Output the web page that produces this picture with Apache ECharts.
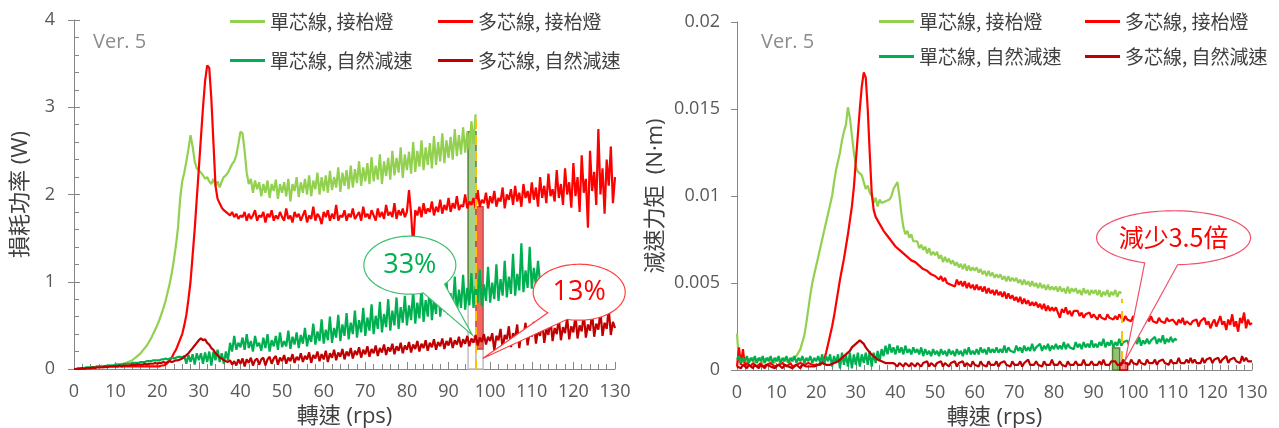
<!DOCTYPE html>
<html><head><meta charset="utf-8">
<script src="https://cdn.jsdelivr.net/npm/echarts/dist/echarts.min.js"></script>
<style>html,body{margin:0;padding:0;background:#fff}#c{width:1279px;height:428px}</style>
</head><body><div id="c"></div>
<script>
// ---------------- data (readings every 0.5 rps, starting at 0 rps) ----------------
const seriesNames = ['單芯線, 接枱燈', '多芯線, 接枱燈', '單芯線, 自然減速', '多芯線, 自然減速'];
const seriesColors = ['#92D050', '#FF0000', '#00B050', '#C00000'];
const sampleStep = 0.5;
const speedAxis = { min: 0, max: 130, interval: 10 };
const lossAxis = { min: 0, max: 4, interval: 1 };
const torqueAxis = { min: 0, max: 0.02, interval: 0.005 };

// Loss power (W)
const lossSingleLamp = [
0,0,0,0.01,0.01,0.01,0.01,0.01,0.02,0.02,0.02,0.02,0.02,0.03,0.03,0.03,0.03,0.04,0.04,0.04,0.05,
0.05,0.05,0.06,0.06,0.07,0.08,0.09,0.10,0.12,0.14,
0.16,0.18,0.21,0.24,0.27,0.31,0.35,0.40,0.45,0.50,
0.56,0.63,0.70,0.78,0.88,0.98,1.10,1.25,1.42,1.62,
1.95,2.15,2.25,2.38,2.52,2.68,2.55,2.38,2.30,2.28,
2.25,2.22,2.18,2.20,2.15,2.12,2.18,2.10,2.15,2.08,
2.15,2.20,2.22,2.25,2.30,2.35,2.38,2.45,2.58,2.72,
2.70,2.50,2.25,2.12,2.18,2.02,2.16,2.06,2.14,1.98,
2.12,2.02,2.16,1.96,2.12,2.04,2.17,1.95,2.12,2.02,
2.14,1.98,2.18,1.92,2.12,2.04,2.20,1.97,2.14,2.02,
2.18,2.00,2.22,1.98,2.16,2.06,2.25,2.00,2.20,2.04,
2.22,2.02,2.27,2.05,2.20,2.08,2.31,2.03,2.25,2.10,
2.28,2.06,2.33,2.08,2.29,2.13,2.38,2.10,2.31,2.15,
2.36,2.12,2.43,2.15,2.33,2.17,2.46,2.12,2.38,2.21,
2.42,2.17,2.50,2.22,2.42,2.25,2.54,2.19,2.46,2.28,
2.49,2.24,2.60,2.26,2.50,2.32,2.62,2.28,2.54,2.34,
2.59,2.30,2.67,2.34,2.60,2.38,2.70,2.36,2.62,2.42,
2.66,2.40,2.75,2.44,2.68,2.46,2.77,2.48,2.72,2.52,
2.84,2.58,2.92
];
const lossMultiLamp = [
0,0,0,0,0.01,0.01,0.01,0.01,0.01,0.01,0.02,0.02,0.02,0.02,0.02,0.02,0.03,0.03,0.03,0.03,0.03,
0.03,0.03,0.03,0.03,0.03,0.03,0.03,0.03,0.03,0.03,
0.03,0.03,0.03,0.03,0.03,0.03,0.03,0.03,0.03,0.03,
0.03,0.04,0.04,0.05,0.07,0.10,0.13,0.18,0.22,0.28,
0.34,0.40,0.50,0.62,0.80,1.00,1.30,1.60,1.95,2.30,
2.65,3.00,3.30,3.48,3.45,3.10,2.60,2.10,1.95,1.90,
1.85,1.82,1.80,1.78,1.76,1.80,1.74,1.78,1.72,1.76,
1.74,1.80,1.70,1.78,1.72,1.76,1.82,1.70,1.76,1.74,
1.80,1.68,1.78,1.74,1.82,1.70,1.76,1.72,1.80,1.74,
1.70,1.84,1.72,1.76,1.68,1.80,1.74,1.78,1.70,1.76,
1.82,1.68,1.76,1.72,1.86,1.70,1.78,1.74,1.66,1.80,
1.74,1.82,1.70,1.78,1.72,1.88,1.70,1.76,1.74,1.82,
1.70,1.78,1.74,1.84,1.72,1.76,1.80,1.70,1.86,1.74,
1.78,1.72,1.82,1.76,1.70,1.84,1.74,1.80,1.72,1.88,
1.76,1.80,1.74,1.90,1.72,1.82,1.76,1.84,1.74,1.80,
2.05,1.78,1.40,1.82,1.76,1.86,1.74,1.90,1.78,1.84,
1.80,1.92,1.76,1.86,1.80,1.94,1.78,1.88,1.82,1.96,
1.80,1.90,1.84,1.98,1.82,1.88,1.86,2.00,1.84,1.92,
1.88,1.96,1.84,2.05,1.86,1.94,1.90,2.02,1.84,1.98,
1.90,2.04,1.86,1.96,1.92,2.08,1.84,2.00,1.94,2.06,
1.88,2.10,1.92,2.02,1.86,2.12,1.96,2.04,1.90,2.14,
1.94,2.08,1.86,2.20,1.96,2.10,1.90,2.24,1.98,2.06,
1.92,2.28,1.96,2.12,1.88,2.30,2.00,2.14,1.85,2.36,
1.98,2.20,1.80,2.45,2.02,2.18,1.62,2.50,2.04,2.26,
1.88,2.75,2.00,2.30,1.78,2.40,2.10,2.55,1.90,2.20
];
const lossSingleCoast = [
0,0,0.01,0.01,0.01,0.01,0.02,0.02,0.02,0.02,0.02,0.03,0.03,0.03,0.03,0.03,0.04,0.04,0.04,0.04,0.05,
0.05,0.05,0.05,0.06,0.06,0.06,0.06,0.07,0.07,0.07,
0.07,0.08,0.08,0.08,0.09,0.09,0.09,0.10,0.10,0.10,
0.10,0.11,0.11,0.12,0.11,0.12,0.13,0.12,0.13,0.14,
0.14,0.13,0.15,0.06,0.16,0.08,0.17,0.05,0.18,0.10,
0.18,0.06,0.19,0.08,0.20,0.04,0.20,0.10,0.22,0.08,
0.18,0.06,0.20,0.10,0.30,0.20,0.38,0.22,0.30,0.25,
0.36,0.22,0.40,0.24,0.32,0.20,0.38,0.26,0.30,0.21,
0.36,0.24,0.40,0.20,0.33,0.26,0.38,0.22,0.42,0.25,
0.32,0.26,0.44,0.23,0.37,0.28,0.42,0.24,0.39,0.29,
0.47,0.26,0.39,0.31,0.52,0.28,0.43,0.32,0.57,0.29,
0.45,0.33,0.60,0.30,0.47,0.36,0.62,0.32,0.51,0.38,
0.64,0.34,0.53,0.40,0.67,0.36,0.56,0.42,0.70,0.38,
0.59,0.44,0.74,0.40,0.61,0.46,0.77,0.42,0.63,0.48,
0.80,0.44,0.67,0.50,0.82,0.46,0.71,0.53,0.84,0.50,
0.73,0.56,0.90,0.52,0.76,0.58,0.94,0.54,0.79,0.60,
0.97,0.56,0.81,0.63,1.00,0.60,0.85,0.66,1.02,0.62,
0.87,0.68,1.06,0.64,0.91,0.70,1.08,0.68,0.93,0.73,
1.10,0.70,0.95,0.76,1.14,0.72,0.97,0.78,1.17,0.76,
0.99,0.80,1.20,0.78,1.03,0.84,1.24,0.82,1.06,0.86,
1.32,0.84,1.09,0.90,1.44,0.88,1.13,0.93,1.40,0.92,
1.16,0.96,1.24,0.98
];
const lossMultiCoast = [
0,0,0,0,0.01,0,0.01,0.01,0.01,0.02,0.01,0.02,0.02,0.02,0.02,0.03,0.02,0.03,0.03,0.03,0.03,
0.03,0.04,0.03,0.04,0.04,0.04,0.04,0.05,0.04,0.05,
0.05,0.05,0.05,0.06,0.05,0.06,0.06,0.06,0.07,0.06,
0.07,0.07,0.08,0.07,0.08,0.09,0.08,0.09,0.10,0.10,
0.11,0.12,0.14,0.16,0.18,0.21,0.24,0.27,0.30,0.33,
0.35,0.33,0.34,0.30,0.28,0.24,0.22,0.18,0.16,0.13,
0.12,0.10,0.09,0.08,0.10,0.05,0.09,0.04,0.11,0.06,
0.12,0.03,0.11,0.07,0.13,0.04,0.10,0.12,0.05,0.11,
0.13,0.04,0.11,0.14,0.06,0.12,0.15,0.05,0.13,0.09,
0.16,0.06,0.13,0.09,0.17,0.07,0.14,0.10,0.18,0.08,
0.15,0.11,0.19,0.07,0.16,0.12,0.20,0.09,0.17,0.11,
0.21,0.08,0.18,0.13,0.22,0.10,0.19,0.14,0.23,0.11,
0.20,0.15,0.24,0.12,0.21,0.16,0.25,0.13,0.22,0.17,
0.26,0.14,0.23,0.18,0.27,0.15,0.24,0.19,0.28,0.16,
0.25,0.20,0.29,0.17,0.26,0.21,0.30,0.18,0.27,0.22,
0.31,0.19,0.28,0.23,0.32,0.20,0.29,0.24,0.33,0.21,
0.30,0.25,0.34,0.22,0.31,0.26,0.35,0.23,0.32,0.27,
0.36,0.24,0.33,0.28,0.37,0.25,0.34,0.29,0.38,0.26,
0.35,0.30,0.39,0.27,0.36,0.31,0.40,0.28,0.37,0.32,
0.41,0.21,0.38,0.33,0.46,0.23,0.39,0.34,0.49,0.25,
0.41,0.35,0.51,0.24,0.42,0.36,0.53,0.27,0.43,0.37,
0.54,0.29,0.45,0.38,0.55,0.30,0.46,0.39,0.57,0.32,
0.47,0.40,0.58,0.33,0.48,0.41,0.59,0.34,0.49,0.42,
0.61,0.35,0.50,0.43,0.63,0.36,0.51,0.44,0.64,0.37,
0.52,0.45,0.66,0.38,0.53,0.46,0.69,0.39,0.54,0.47
];

// Braking torque (N·m)
const torqueSingleLamp = [
0.0021,0.0004,0.0006,0.0005,0.0007,0.0004,0.0006,0.0005,0.0007,0.0004,0.0006,0.0005,0.0007,0.0004,0.0006,0.0005,0.0007,0.0005,0.0006,0.0004,0.0007,
0.0005,0.0006,0.0004,0.0007,0.0005,0.0006,0.0005,0.0007,0.0006,0.0008,
0.0008,0.0012,0.0016,0.0020,0.0027,0.0035,0.0043,0.0050,0.0055,0.0060,
0.0065,0.0070,0.0075,0.0080,0.0085,0.0090,0.0095,0.0100,0.0108,0.0115,
0.0120,0.0125,0.0132,0.0137,0.0141,0.0151,0.0145,0.0135,0.0125,0.0117,
0.0114,0.0115,0.0112,0.0108,0.0104,0.0106,0.0102,0.0100,0.0096,0.0099,
0.0094,0.0098,0.0096,0.0097,0.0097,0.0098,0.0098,0.0100,0.0104,0.0106,
0.0108,0.0100,0.0090,0.0082,0.0078,0.0080,0.0076,0.0078,0.0074,0.0073,
0.0074,0.0070,0.0072,0.0069,0.0071,0.0067,0.0070,0.0066,0.0068,0.0066,
0.0068,0.0064,0.0066,0.0062,0.0065,0.0062,0.0064,0.0061,0.0063,0.0060,
0.0062,0.0059,0.0061,0.0058,0.0061,0.0057,0.0060,0.0057,0.0059,0.0057,
0.0059,0.0056,0.0058,0.0055,0.0057,0.0054,0.0057,0.0054,0.0056,0.0053,
0.0055,0.0053,0.0055,0.0052,0.0054,0.0051,0.0054,0.0051,0.0053,0.0051,
0.0053,0.0050,0.0052,0.0049,0.0052,0.0049,0.0051,0.0048,0.0051,0.0048,
0.0050,0.0047,0.0050,0.0047,0.0049,0.0046,0.0049,0.0046,0.0048,0.0046,
0.0048,0.0045,0.0048,0.0045,0.0047,0.0044,0.0048,0.0044,0.0047,0.0045,
0.0047,0.0044,0.0046,0.0043,0.0047,0.0044,0.0046,0.0043,0.0046,0.0044,
0.0046,0.0043,0.0046,0.0042,0.0045,0.0043,0.0046,0.0042,0.0045,0.0043,
0.0046,0.0042,0.0045,0.0044
];
const torqueMultiLamp = [
0.0002,0.0013,0.0003,0.0012,0.0002,0.0004,0.0003,0.0002,0.0004,0.0003,0.0002,0.0003,0.0004,0.0002,0.0003,0.0003,0.0002,0.0004,0.0003,0.0002,0.0003,
0.0003,0.0002,0.0004,0.0003,0.0002,0.0003,0.0004,0.0002,0.0003,0.0003,
0.0002,0.0004,0.0003,0.0003,0.0002,0.0004,0.0003,0.0003,0.0004,0.0003,
0.0003,0.0003,0.0004,0.0006,0.0010,0.0015,0.0020,0.0025,0.0031,0.0038,
0.0045,0.0052,0.0058,0.0064,0.0071,0.0078,0.0086,0.0094,0.0105,0.0120,
0.0135,0.0150,0.0163,0.0171,0.0168,0.0150,0.0125,0.0102,0.0092,0.0088,
0.0087,0.0084,0.0083,0.0080,0.0080,0.0077,0.0077,0.0074,0.0073,0.0071,
0.0071,0.0069,0.0069,0.0067,0.0067,0.0065,0.0065,0.0063,0.0063,0.0062,
0.0062,0.0060,0.0060,0.0058,0.0058,0.0057,0.0057,0.0055,0.0056,0.0054,
0.0055,0.0052,0.0054,0.0051,0.0053,0.0050,0.0051,0.0049,0.0050,0.0048,
0.0052,0.0049,0.0051,0.0048,0.0051,0.0047,0.0050,0.0047,0.0049,0.0046,
0.0049,0.0046,0.0048,0.0045,0.0048,0.0044,0.0047,0.0044,0.0046,0.0043,
0.0046,0.0043,0.0045,0.0042,0.0045,0.0041,0.0044,0.0041,0.0043,0.0040,
0.0042,0.0039,0.0042,0.0038,0.0041,0.0038,0.0040,0.0037,0.0039,0.0037,
0.0039,0.0036,0.0038,0.0035,0.0038,0.0034,0.0037,0.0034,0.0036,0.0034,
0.0036,0.0033,0.0030,0.0035,0.0033,0.0036,0.0032,0.0034,0.0031,0.0034,
0.0033,0.0034,0.0031,0.0033,0.0030,0.0032,0.0031,0.0033,0.0030,0.0032,
0.0031,0.0029,0.0032,0.0030,0.0031,0.0029,0.0032,0.0030,0.0031,0.0029,
0.0031,0.0029,0.0032,0.0030,0.0028,0.0031,0.0029,0.0030,0.0028,0.0031,
0.0029,0.0031,0.0028,0.0030,0.0029,0.0027,0.0030,0.0028,0.0031,0.0028,
0.0029,0.0027,0.0030,0.0028,0.0029,0.0027,0.0030,0.0028,0.0027,0.0029,
0.0028,0.0026,0.0029,0.0027,0.0030,0.0026,0.0028,0.0029,0.0026,0.0028,
0.0027,0.0029,0.0025,0.0028,0.0027,0.0030,0.0026,0.0028,0.0024,0.0027,
0.0029,0.0025,0.0028,0.0031,0.0026,0.0028,0.0023,0.0029,0.0026,0.0032,
0.0025,0.0028,0.0022,0.0030,0.0027,0.0033,0.0024,0.0029,0.0026,0.0027
];
const torqueSingleCoast = [
0.0006,0.0008,0.0004,0.0007,0.0005,0.0008,0.0004,0.0007,0.0005,0.0008,0.0004,0.0007,0.0005,0.0008,0.0004,0.0007,0.0005,0.0008,0.0004,0.0007,0.0005,
0.0008,0.0004,0.0007,0.0005,0.0008,0.0004,0.0007,0.0005,0.0008,0.0004,
0.0007,0.0005,0.0008,0.0004,0.0007,0.0005,0.0008,0.0004,0.0007,0.0005,
0.0008,0.0004,0.0009,0.0003,0.0008,0.0005,0.0009,0.0002,0.0008,0.0004,
0.0009,0.0001,0.0010,0.0003,0.0009,0.0002,0.0010,0.0001,0.0009,0.0003,
0.0010,0.0002,0.0009,0.0004,0.0010,0.0003,0.0011,0.0002,0.0010,0.0004,
0.0011,0.0005,0.0012,0.0008,0.0014,0.0009,0.0015,0.0010,0.0013,0.0009,
0.0014,0.0010,0.0013,0.0009,0.0014,0.0010,0.0012,0.0009,0.0013,0.0010,
0.0012,0.0009,0.0013,0.0008,0.0012,0.0009,0.0011,0.0008,0.0012,0.0009,
0.0011,0.0008,0.0012,0.0009,0.0011,0.0008,0.0012,0.0009,0.0011,0.0008,
0.0012,0.0009,0.0011,0.0008,0.0012,0.0009,0.0013,0.0009,0.0011,0.0009,
0.0012,0.0009,0.0013,0.0010,0.0012,0.0009,0.0013,0.0010,0.0012,0.0010,
0.0013,0.0010,0.0012,0.0010,0.0014,0.0010,0.0013,0.0011,0.0012,0.0010,
0.0014,0.0011,0.0013,0.0010,0.0014,0.0011,0.0013,0.0011,0.0015,0.0011,
0.0013,0.0012,0.0015,0.0011,0.0014,0.0012,0.0015,0.0011,0.0014,0.0012,
0.0015,0.0012,0.0014,0.0012,0.0016,0.0012,0.0015,0.0013,0.0014,0.0012,
0.0016,0.0013,0.0015,0.0012,0.0016,0.0013,0.0015,0.0013,0.0017,0.0013,
0.0015,0.0013,0.0016,0.0014,0.0018,0.0013,0.0016,0.0014,0.0017,0.0013,
0.0016,0.0014,0.0018,0.0014,0.0016,0.0015,0.0017,0.0014,0.0018,0.0015,
0.0017,0.0015,0.0019,0.0014,0.0017,0.0015,0.0018,0.0015,0.0017,0.0016,
0.0019,0.0015,0.0018,0.0016,0.0020,0.0015,0.0018,0.0016,0.0019,0.0016,
0.0018,0.0017
];
const torqueMultiCoast = [
0.0002,0.0003,0.0001,0.0003,0.0002,0.0001,0.0003,0.0002,0.0001,0.0003,0.0002,0.0001,0.0003,0.0002,0.0001,0.0003,0.0002,0.0002,0.0003,0.0001,0.0002,
0.0003,0.0002,0.0001,0.0003,0.0002,0.0002,0.0003,0.0001,0.0002,0.0003,
0.0002,0.0001,0.0003,0.0002,0.0002,0.0003,0.0002,0.0003,0.0002,0.0003,
0.0003,0.0002,0.0004,0.0003,0.0003,0.0004,0.0003,0.0004,0.0004,0.0005,
0.0005,0.0006,0.0007,0.0008,0.0009,0.0010,0.0011,0.0013,0.0014,0.0015,
0.0016,0.0017,0.0016,0.0015,0.0013,0.0012,0.0010,0.0009,0.0008,0.0007,
0.0006,0.0005,0.0005,0.0004,0.0004,0.0003,0.0004,0.0003,0.0004,0.0003,
0.0002,0.0004,0.0003,0.0002,0.0004,0.0003,0.0002,0.0004,0.0003,0.0002,
0.0004,0.0003,0.0002,0.0004,0.0003,0.0005,0.0002,0.0004,0.0003,0.0002,
0.0004,0.0003,0.0005,0.0002,0.0004,0.0003,0.0002,0.0004,0.0003,0.0005,
0.0002,0.0004,0.0003,0.0005,0.0002,0.0004,0.0003,0.0002,0.0005,0.0003,
0.0004,0.0002,0.0005,0.0003,0.0004,0.0002,0.0005,0.0003,0.0004,0.0003,
0.0005,0.0002,0.0004,0.0003,0.0005,0.0003,0.0004,0.0002,0.0005,0.0003,
0.0004,0.0003,0.0005,0.0002,0.0004,0.0003,0.0006,0.0003,0.0004,0.0003,
0.0005,0.0003,0.0004,0.0002,0.0005,0.0003,0.0004,0.0003,0.0006,0.0003,
0.0004,0.0003,0.0005,0.0003,0.0004,0.0002,0.0005,0.0003,0.0004,0.0003,
0.0005,0.0003,0.0004,0.0003,0.0006,0.0003,0.0004,0.0003,0.0005,0.0003,
0.0004,0.0003,0.0005,0.0003,0.0006,0.0003,0.0004,0.0003,0.0005,0.0004,
0.0005,0.0003,0.0004,0.0003,0.0006,0.0004,0.0005,0.0003,0.0006,0.0004,
0.0005,0.0003,0.0006,0.0004,0.0005,0.0003,0.0006,0.0004,0.0005,0.0004,
0.0006,0.0003,0.0005,0.0004,0.0006,0.0004,0.0005,0.0003,0.0006,0.0004,
0.0005,0.0004,0.0007,0.0004,0.0005,0.0004,0.0006,0.0004,0.0007,0.0004,
0.0006,0.0004,0.0005,0.0004,0.0007,0.0004,0.0006,0.0005,0.0007,0.0004,
0.0006,0.0005,0.0007,0.0004,0.0006,0.0005,0.0008,0.0004,0.0006,0.0005,
0.0007,0.0005,0.0006,0.0004,0.0008,0.0005,0.0007,0.0005,0.0006,0.0005
];

// Annotation boxes [x1, y1, x2, y2] in data units
const lossSingleBoxes = [[94.7, 0, 96.6, 0.885], [94.7, 0.885, 96.6, 2.72]];
const lossMultiBoxes = [[96.6, 0, 98.3, 0.23], [96.6, 0.23, 98.3, 1.86]];
const lossMarkerLine = [96.6, 0, 2.9];
const torqueBoxes = [[94.8, 0, 96.6, 0.00127], [96.6, 0, 98.6, 0.0004]];
const torqueMarkerLine = [97.2, 0.0004, 0.0041];
// Callouts: text, grid, centre [x,y] data, tip [x,y] data
const callouts = [
  { text: '33%', grid: 0, center: [80.7, 1.19], tip: [95.7, 0.39] },
  { text: '13%', grid: 0, center: [121.4, 0.88], tip: [98.2, 0.12] },
  { text: '減少3.5倍', grid: 1, center: [110.2, 0.0076], tip: [98.0, 0.00055] }
];

// ---------------- chart ----------------
const FONT = '"Open Sans", "Noto Sans CJK TC", sans-serif';
const CJK = '"Noto Sans CJK TC", "Open Sans", sans-serif';
const pairs = arr => arr.map((v, i) => [i * sampleStep, v]);

const chart = echarts.init(document.getElementById('c'), null, { renderer: 'canvas' });

function xAxisCfg(gridIndex) {
  return {
    type: 'value', gridIndex, min: speedAxis.min, max: speedAxis.max, interval: speedAxis.interval,
    name: '轉速 (rps)', nameLocation: 'middle', nameGap: 32,
    nameTextStyle: { fontFamily: FONT, fontSize: 22, color: '#404040' },
    axisLine: { lineStyle: { color: '#868686', width: 1 } },
    axisTick: { inside: true, length: 7, lineStyle: { color: '#868686' } },
    minorTick: { show: true, splitNumber: 5, length: 5, lineStyle: { color: '#868686' } },
    axisLabel: { fontFamily: FONT, fontSize: 18, color: '#595959', margin: 14 },
    splitLine: { show: false }
  };
}
function yAxisCfg(gridIndex, ax, name, gap, margin) {
  return {
    type: 'value', gridIndex, position: 'left', min: ax.min, max: ax.max, interval: ax.interval,
    name, nameLocation: 'middle', nameGap: gap, nameRotate: 90,
    nameTextStyle: { fontFamily: FONT, fontSize: 22, color: '#404040' },
    axisLine: { show: true, lineStyle: { color: '#868686', width: 1 } },
    axisTick: { show: true, length: 6, lineStyle: { color: '#868686' } },
    minorTick: { show: false },
    axisLabel: { fontFamily: FONT, fontSize: 18, color: '#595959', margin },
    splitLine: { show: false }
  };
}
// companion axis drawing the inner tick marks of the loss axis
const lossInnerTicks = {
  type: 'value', gridIndex: 0, position: 'left', offset: 0,
  min: lossAxis.min, max: lossAxis.max, interval: lossAxis.interval,
  axisLine: { show: false }, axisLabel: { show: false }, splitLine: { show: false },
  axisTick: { show: true, inside: true, length: 6, lineStyle: { color: '#868686' } },
  minorTick: { show: true, splitNumber: 5, length: 5, lineStyle: { color: '#868686' } }
};

function lineSeries(name, color, data, xi, z) {
  return {
    type: 'line', name, xAxisIndex: xi, yAxisIndex: xi, data: pairs(data),
    showSymbol: false, symbol: 'none', color, z,
    lineStyle: { color, width: 2.2 }, emphasis: { disabled: true }, silent: true
  };
}

function boxes(list, styles) {
  return list.map((b, i) => [
    { coord: [b[0], b[1]], itemStyle: styles[i] },
    { coord: [b[2], b[3]] }
  ]);
}

const lossData = [lossSingleLamp, lossMultiLamp, lossSingleCoast, lossMultiCoast];
const torqueData = [torqueSingleLamp, torqueMultiLamp, torqueSingleCoast, torqueMultiCoast];

const series = [];
lossData.forEach((d, i) => series.push(lineSeries(seriesNames[i], seriesColors[i], d, 0, 2 + i)));
torqueData.forEach((d, i) => series.push(lineSeries(seriesNames[i], seriesColors[i], d, 1, 2 + i)));

// annotation overlay series
series.push({
  type: 'line', xAxisIndex: 0, yAxisIndex: 0, data: [], z: 10, silent: true,
  markLine: {
    silent: true, symbol: 'none', label: { show: false },
    lineStyle: { color: '#FFC000', type: [10, 6], width: 2 },
    data: [[{ coord: [lossMarkerLine[0], lossMarkerLine[1]] }, { coord: [lossMarkerLine[0], lossMarkerLine[2]] }]]
  },
  markArea: {
    silent: true, label: { show: false },
    data: boxes(lossSingleBoxes.concat(lossMultiBoxes), [
      { color: '#FFFFFF', borderColor: '#BFBFBF', borderWidth: 1.5 },
      { color: '#A9D18E', borderColor: '#548235', borderWidth: 1.5 },
      { color: '#FFFFFF', borderColor: '#BFBFBF', borderWidth: 1.5 },
      { color: '#F4665C', borderColor: '#C0504D', borderWidth: 1.5 }
    ])
  }
});
series.push({
  type: 'line', xAxisIndex: 1, yAxisIndex: 1, data: [], z: 10, silent: true,
  markLine: {
    silent: true, symbol: 'none', label: { show: false },
    lineStyle: { color: '#FFC000', type: [12, 8], width: 2 },
    data: [[{ coord: [torqueMarkerLine[0], torqueMarkerLine[1]] }, { coord: [torqueMarkerLine[0], torqueMarkerLine[2]] }]]
  },
  markArea: {
    silent: true, label: { show: false },
    data: boxes(torqueBoxes, [
      { color: 'rgba(112,173,71,0.75)', borderColor: '#548235', borderWidth: 1.5 },
      { color: 'rgba(255,60,60,0.6)', borderColor: '#C00000', borderWidth: 1.5 }
    ])
  }
});

function legendItem(name, left, top) {
  return {
    data: [name], left, top, icon: 'rect', itemWidth: 35, itemHeight: 3, itemGap: 0, padding: 0,
    selectedMode: false,
    textStyle: { fontFamily: CJK, fontSize: 19, color: '#404040' }
  };
}

const option = {
  animation: false,
  backgroundColor: '#FFFFFF',
  title: [
    { text: 'Ver. 5', left: 88, top: 27, textStyle: { fontFamily: FONT, fontSize: 20, fontWeight: 'normal', color: '#8C8C8C' } },
    { text: 'Ver. 5', left: 756, top: 27, textStyle: { fontFamily: FONT, fontSize: 20, fontWeight: 'normal', color: '#8C8C8C' } }
  ],
  legend: [
    legendItem(seriesNames[0], 230, 12),
    legendItem(seriesNames[1], 438, 12),
    legendItem(seriesNames[2], 230, 51),
    legendItem(seriesNames[3], 438, 51),
    legendItem(seriesNames[0], 879, 12),
    legendItem(seriesNames[1], 1085, 12),
    legendItem(seriesNames[2], 879, 47),
    legendItem(seriesNames[3], 1085, 47)
  ],
  grid: [
    { left: 74, right: 664, top: 20, bottom: 59, containLabel: false, outerBoundsMode: 'none' },
    { left: 737, right: 27, top: 22, bottom: 58, containLabel: false, outerBoundsMode: 'none' }
  ],
  xAxis: [xAxisCfg(0), xAxisCfg(1)],
  yAxis: [
    yAxisCfg(0, lossAxis, '損耗功率 (W)', 42, 19),
    yAxisCfg(1, torqueAxis, '減速力矩  (N·m)', 70, 17),
    lossInnerTicks
  ],
  series
};
chart.setOption(option);

// ---- speech-bubble callouts anchored to data coordinates ----
const bubbleStyle = [
  { rx: 46, ry: 29, a1: 41, a2: 73, stroke: '#3CC070', fill: '#00B050', size: 27 },
  { rx: 46, ry: 28, a1: 105, a2: 133, stroke: '#FF4040', fill: '#FF0000', size: 27 },
  { rx: 77, ry: 27, a1: 87, a2: 112, stroke: '#F0506A', fill: '#FF0000', size: 25 }
];
const graphics = [];
callouts.forEach((c, i) => {
  const s = bubbleStyle[i];
  const ctr = chart.convertToPixel({ gridIndex: c.grid }, c.center);
  const tip = chart.convertToPixel({ gridIndex: c.grid }, c.tip);
  const pts = [];
  for (let a = s.a2; a < s.a1 + 360; a += 3) {
    const r = a * Math.PI / 180;
    pts.push([ctr[0] + s.rx * Math.cos(r), ctr[1] + s.ry * Math.sin(r)]);
  }
  const rEnd = (s.a1 + 360) * Math.PI / 180;
  pts.push([ctr[0] + s.rx * Math.cos(rEnd), ctr[1] + s.ry * Math.sin(rEnd)]);
  pts.push(tip);
  graphics.push({
    type: 'polygon', z: 100, silent: true,
    shape: { points: pts },
    style: { fill: '#FFFFFF', stroke: s.stroke, lineWidth: 1.2 }
  });
  graphics.push({
    type: 'text', z: 101, silent: true,
    style: {
      text: c.text, x: ctr[0], y: ctr[1], textAlign: 'center', textVerticalAlign: 'middle',
      font: s.size + 'px ' + (i === 2 ? CJK : FONT), fill: s.fill,
      shadowColor: i === 2 ? 'rgba(0,0,0,0)' : 'rgba(0,0,0,0.35)', shadowOffsetX: 1.5, shadowOffsetY: 1.5, shadowBlur: 1
    }
  });
});
chart.setOption({ graphic: graphics });
</script>
</body></html>
